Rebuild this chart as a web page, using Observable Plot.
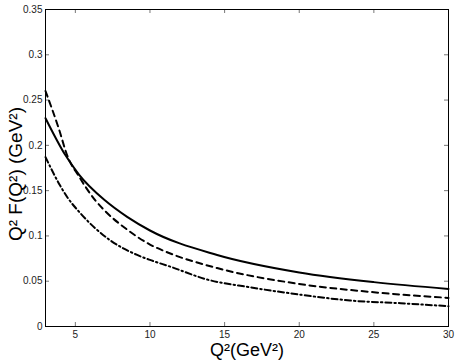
<!DOCTYPE html>
<html>
<head>
<meta charset="utf-8">
<script src="https://cdn.jsdelivr.net/npm/d3@7"></script>
<script src="https://cdn.jsdelivr.net/npm/@observablehq/plot@0.6"></script>
<style>
  html, body { margin: 0; padding: 0; background: #fff; }
  svg { font-family: "Liberation Sans", Arial, Helvetica, sans-serif; }
</style>
</head>
<body>
<div id="chart"></div>
<script>
const xTicks = [5, 10, 15, 20, 25, 30];
const yTicks = [0, 0.05, 0.1, 0.15, 0.2, 0.25, 0.3, 0.35];
const yTickLabels = ["0", "0.05", "0.1", "0.15", "0.2", "0.25", "0.3", "0.35"];

const solidQ2 = [3, 4.34, 5.23, 7.0, 8.47, 10, 14.5, 20, 25, 30];
const solidF  = [0.230, 0.189, 0.168, 0.139, 0.121, 0.106, 0.079, 0.0597, 0.049, 0.0415];

const dashedQ2 = [3, 3.9, 4.45, 5.23, 6.35, 6.9, 8.47, 10, 11.15, 14.5, 20, 25, 30];
const dashedF  = [0.260, 0.218, 0.189, 0.166, 0.139, 0.129, 0.107, 0.0905, 0.082, 0.0645, 0.047, 0.0378, 0.0316];

const dashDotQ2 = [3, 4.0, 4.45, 5.34, 7.35, 9.14, 10, 11.37, 13.8, 16.7, 20, 23.4, 26.8, 30];
const dashDotF  = [0.187, 0.155, 0.143, 0.125, 0.095, 0.079, 0.0735, 0.066, 0.052, 0.0433, 0.0353, 0.0287, 0.0257, 0.0224];

const xLabel = "Q²(GeV²)";
const yLabel = "Q² F(Q²) (GeV²)";

const toRows = (xs, ys) => xs.map((x, i) => ({x, y: ys[i]}));
const solid = toRows(solidQ2, solidF);
const dashed = toRows(dashedQ2, dashedF);
const dashDot = toRows(dashDotQ2, dashDotF);

const W = 457, H = 363, ML = 45, MR = 9, MT = 9, MB = 37;
const TICK = 4;
const frameW = W - ML - MR, frameH = H - MT - MB;
const tickStroke = {stroke: "#777", strokeWidth: 1};

const chart = Plot.plot({
  width: W,
  height: H,
  marginLeft: ML,
  marginRight: MR,
  marginTop: MT,
  marginBottom: MB,
  style: {fontFamily: '"Liberation Sans", Arial, Helvetica, sans-serif', background: "#fff"},
  x: {domain: [3, 30]},
  y: {domain: [0, 0.35]},
  marks: [
    Plot.ruleX(xTicks, {x: d => d, insetTop: frameH - TICK, ...tickStroke}),
    Plot.ruleX(xTicks, {x: d => d, insetBottom: frameH - TICK, ...tickStroke}),
    Plot.ruleY(yTicks, {y: d => d, insetRight: frameW - TICK, ...tickStroke}),
    Plot.ruleY(yTicks, {y: d => d, insetLeft: frameW - TICK, ...tickStroke}),
    Plot.frame({stroke: "#000", strokeWidth: 1}),
    Plot.axisX(xTicks, {anchor: "bottom", tickSize: 0, tickPadding: 4, fontSize: 10, label: null, fill: "#222"}),
    Plot.axisY(yTicks, {anchor: "left", tickSize: 0, tickPadding: 3, fontSize: 10, label: null, fill: "#222", tickFormat: (d, i) => yTickLabels[i]}),
    Plot.line(solid, {x: "x", y: "y", stroke: "#000", strokeWidth: 2, curve: "monotone-x"}),
    Plot.line(dashed, {x: "x", y: "y", stroke: "#000", strokeWidth: 2, strokeDasharray: "6,4.5", curve: "monotone-x"}),
    Plot.line(dashDot, {x: "x", y: "y", stroke: "#000", strokeWidth: 2, strokeDasharray: "6,3,1.5,3", curve: "monotone-x"}),
    Plot.text([xLabel], {frameAnchor: "bottom", dy: 29, fontSize: 18, fill: "#000"}),
    Plot.text([yLabel], {frameAnchor: "left", rotate: -90, textAnchor: "middle", dx: -30, dy: 6, fontSize: 19, fill: "#000"})
  ]
});
document.getElementById("chart").appendChild(chart);
</script>
</body>
</html>
